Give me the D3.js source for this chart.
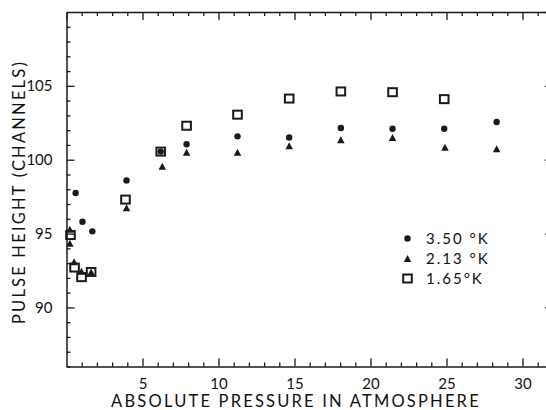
<!DOCTYPE html>
<html><head><meta charset="utf-8">
<script src="https://cdn.jsdelivr.net/npm/d3@7"></script>
<style>
html,body{margin:0;padding:0;background:#fff;overflow:hidden}
svg{display:block}
text{font-family:Lato,"Open Sans",sans-serif;fill:#111}
</style></head>
<body>
<svg id="chart" width="546" height="410"></svg>
<script>
// ---- data ----
const seriesNames = ["3.50 °K", "2.13 °K", "1.65°K"];
const circles350 = [[0.6,97.75],[1.05,95.8],[1.7,95.15],[3.95,98.6],[6.2,100.55],[7.9,101.05],[11.25,101.58],[14.65,101.5],[18.05,102.15],[21.45,102.1],[24.85,102.1],[28.3,102.55]];
const triangles213 = [[0.22,95.3],[0.22,94.35],[0.5,93.1],[0.98,92.45],[1.62,92.4],[3.95,96.75],[6.3,99.55],[7.9,100.5],[11.25,100.5],[14.65,100.95],[18.05,101.35],[21.45,101.5],[24.9,100.85],[28.3,100.75]];
const squares165 = [[0.26,94.9],[0.53,92.7],[0.99,92.05],[1.62,92.4],[3.88,97.3],[6.2,100.55],[7.9,102.3],[11.25,103.05],[14.65,104.14],[18.05,104.62],[21.45,104.57],[24.85,104.1]];
const xMajorTicks = [5,10,15,20,25,30];
const yMajorTicks = [90,95,100,105];
const xTitle = "ABSOLUTE PRESSURE IN ATMOSPHERE";
const yTitle = "PULSE HEIGHT (CHANNELS)";

// ---- layout ----
const L = 66.5, R = 552.9, T = 12, B = 366.5;
const x = d3.scaleLinear().domain([0,32]).range([L,R]);
const y = d3.scaleLinear().domain([86,110]).range([B,T]);
const svg = d3.select("#chart");
const ink = "#1a1a1a";

const xMinor = d3.range(0,33).filter(v=>v%5!==0);
const yMinor = d3.range(86,111).filter(v=>v%5!==0);
const xMajAll = [0,5,10,15,20,25,30];
const yMajAll = [90,95,100,105,110];

function styleAxis(g){
  g.selectAll("path.domain").attr("stroke",ink).attr("stroke-width",1.5);
  g.selectAll(".tick line").attr("stroke",ink).attr("stroke-width",1.3);
  g.selectAll(".tick text").attr("font-size",15).attr("fill",ink).style("font-family","Lato,sans-serif");
}
// bottom
svg.append("g").attr("transform",`translate(0,${B})`)
  .call(d3.axisBottom(x).tickValues(xMinor).tickSizeInner(-4).tickSizeOuter(0).tickFormat(""))
  .call(styleAxis);
svg.append("g").attr("transform",`translate(0,${B})`)
  .call(d3.axisBottom(x).tickValues(xMajorTicks).tickSizeInner(-8).tickSizeOuter(0).tickPadding(8).tickFormat(d3.format("d")))
  .call(styleAxis).call(g=>g.select("path.domain").remove())
  .call(g=>g.selectAll(".tick text").attr("dy","0.95em"));
// top
svg.append("g").attr("transform",`translate(0,${T})`)
  .call(d3.axisTop(x).tickValues(xMinor).tickSizeInner(-4).tickSizeOuter(0).tickFormat(""))
  .call(styleAxis);
svg.append("g").attr("transform",`translate(0,${T})`)
  .call(d3.axisTop(x).tickValues(xMajAll).tickSizeInner(-8).tickSizeOuter(0).tickFormat(""))
  .call(styleAxis).call(g=>g.select("path.domain").remove());
// left
svg.append("g").attr("transform",`translate(${L},0)`)
  .call(d3.axisLeft(y).tickValues(yMinor).tickSizeInner(-4).tickSizeOuter(0).tickFormat(""))
  .call(styleAxis);
svg.append("g").attr("transform",`translate(${L},0)`)
  .call(d3.axisLeft(y).tickValues(yMajorTicks).tickSizeInner(-8).tickSizeOuter(0).tickPadding(14).tickFormat(d3.format("d")))
  .call(styleAxis).call(g=>g.select("path.domain").remove());
// right
svg.append("g").attr("transform",`translate(${R},0)`)
  .call(d3.axisRight(y).tickValues(yMinor).tickSizeInner(-4).tickSizeOuter(0).tickFormat(""))
  .call(styleAxis);
svg.append("g").attr("transform",`translate(${R},0)`)
  .call(d3.axisRight(y).tickValues(yMajAll).tickSizeInner(-8).tickSizeOuter(0).tickFormat(""))
  .call(styleAxis).call(g=>g.select("path.domain").remove());

// titles
svg.append("text").attr("x",296).attr("y",407).attr("text-anchor","middle")
  .attr("font-size",16.5).attr("letter-spacing",2.2).text(xTitle);
svg.append("text").attr("transform","translate(25,192) rotate(-90)").attr("text-anchor","middle")
  .attr("font-size",16.5).attr("letter-spacing",2.2).text(yTitle);

// markers
function triPath(cx,cy,w,h){return `M${cx-w/2},${cy+h/2}L${cx},${cy-h/2}L${cx+w/2},${cy+h/2}Z`;}
const pts = svg.append("g");
pts.selectAll("path.tri").data(triangles213).join("path").attr("class","tri")
  .attr("d",d=>triPath(x(d[0]),y(d[1]),7.5,7)).attr("fill",ink);
pts.selectAll("rect.sq").data(squares165).join("rect").attr("class","sq")
  .attr("x",d=>x(d[0])-4.3).attr("y",d=>y(d[1])-4).attr("width",8.6).attr("height",8)
  .attr("fill","none").attr("stroke",ink).attr("stroke-width",2);
pts.selectAll("circle.c").data(circles350).join("circle").attr("class","c")
  .attr("cx",d=>x(d[0])).attr("cy",d=>y(d[1])).attr("r",3.2).attr("fill",ink);

// legend
const lg = svg.append("g");
const lx = 407.5, ly0 = 238.5, dy = 20;
lg.append("circle").attr("cx",lx).attr("cy",ly0).attr("r",3.2).attr("fill",ink);
lg.append("path").attr("d",triPath(lx,ly0+dy,7.5,7)).attr("fill",ink);
lg.append("rect").attr("x",lx-4.3).attr("y",ly0+2*dy-4).attr("width",8.6).attr("height",8)
  .attr("fill","none").attr("stroke",ink).attr("stroke-width",2);
lg.selectAll("text").data(seriesNames).join("text")
  .attr("x",426).attr("y",(d,i)=>ly0+i*dy+5.5).attr("font-size",15).attr("letter-spacing",2)
  .text(d=>d);
</script>
</body></html>
